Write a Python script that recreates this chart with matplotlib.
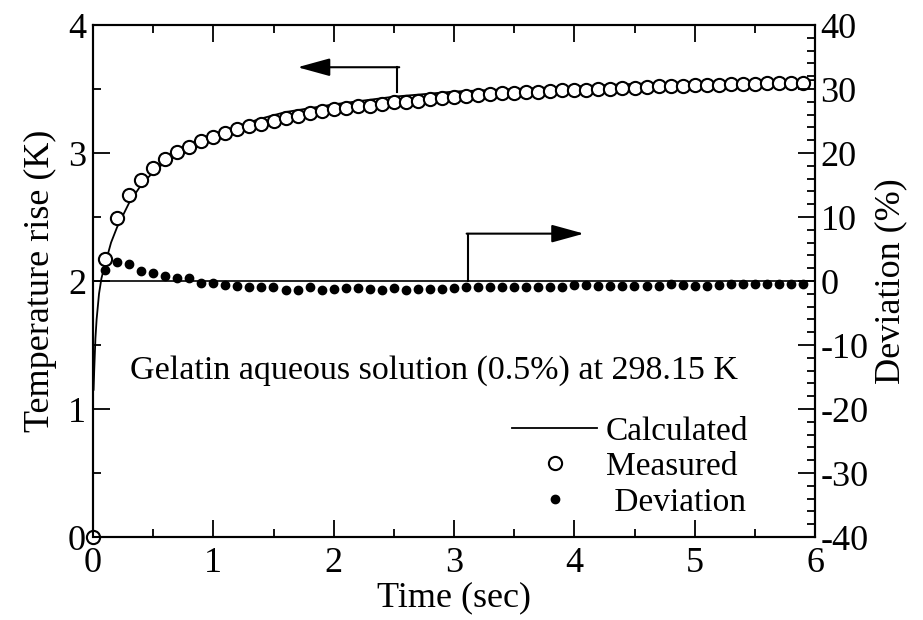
import matplotlib
matplotlib.use("Agg")
import matplotlib.pyplot as plt
from matplotlib.ticker import MultipleLocator

plt.rcParams['font.family'] = ['Liberation Serif', 'DejaVu Serif']
plt.rcParams['axes.unicode_minus'] = False

#%%-------------------- Data ---------------------------------------------------
# measured temperature rise (open circles)
time_meas = [0.0, 0.1, 0.2, 0.3, 0.4, 0.5, 0.6, 0.7, 0.8, 0.9,
             1.0, 1.1, 1.2, 1.3, 1.4, 1.5, 1.6, 1.7, 1.8, 1.9,
             2.0, 2.1, 2.2, 2.3, 2.4, 2.5, 2.6, 2.7, 2.8, 2.9,
             3.0, 3.1, 3.2, 3.3, 3.4, 3.5, 3.6, 3.7, 3.8, 3.9,
             4.0, 4.1, 4.2, 4.3, 4.4, 4.5, 4.6, 4.7, 4.8, 4.9,
             5.0, 5.1, 5.2, 5.3, 5.4, 5.5, 5.6, 5.7, 5.8, 5.9]
temp_meas = [0.0, 2.17, 2.49, 2.67, 2.79, 2.88, 2.95, 3.01, 3.05, 3.09,
             3.125, 3.16, 3.19, 3.21, 3.23, 3.25, 3.27, 3.29, 3.31, 3.33,
             3.34, 3.35, 3.365, 3.37, 3.38, 3.40, 3.40, 3.41, 3.42, 3.43,
             3.44, 3.445, 3.45, 3.46, 3.465, 3.47, 3.475, 3.48, 3.485, 3.49,
             3.49, 3.495, 3.50, 3.50, 3.505, 3.51, 3.515, 3.52, 3.52, 3.525,
             3.53, 3.53, 3.535, 3.54, 3.54, 3.54, 3.545, 3.545, 3.55, 3.55]

# deviation (%) (filled dots)
time_dev = time_meas[1:]
deviation = [1.7, 3.0, 2.6, 1.6, 1.3, 0.8, 0.5, 0.5, -0.3,
             -0.3, -0.6, -0.8, -0.9, -0.9, -1.0, -1.4, -1.4, -1.0, -1.4,
             -1.3, -1.1, -1.1, -1.3, -1.4, -1.1, -1.4, -1.3, -1.3, -1.3,
             -1.15, -0.95, -0.95, -0.95, -0.95, -0.95, -1.0, -1.0, -1.0, -0.95,
             -0.6, -0.6, -0.8, -0.8, -0.8, -0.8, -0.8, -0.8, -0.5, -0.6,
             -0.8, -0.8, -0.6, -0.4, -0.4, -0.5, -0.5, -0.4, -0.5, -0.5]

# calculated curve (solid line)
time_calc = [0.005, 0.01, 0.02, 0.03, 0.05, 0.07, 0.1, 0.15, 0.2, 0.3,
             0.4, 0.5, 0.6, 0.7, 0.8, 0.9, 1.0, 1.2, 1.4, 1.6,
             1.8, 2.0, 2.5, 3.0, 3.5, 4.0, 4.5, 5.0, 5.5, 6.0]
temp_calc = [1.15, 1.3, 1.55, 1.7, 1.9, 2.02, 2.13, 2.30, 2.42, 2.61,
             2.75, 2.85, 2.93, 2.99, 3.04, 3.09, 3.13, 3.21, 3.27, 3.32,
             3.35, 3.38, 3.44, 3.48, 3.50, 3.52, 3.54, 3.555, 3.56, 3.57]

#%%-------------------- Figure ------------------------------------------------
fig = plt.figure(figsize=(9.23, 6.2), dpi=100)
ax = fig.add_axes([93/923, 1-537/620, 722/923, 512/620])
ax2 = ax.twinx()

ax.plot(time_calc, temp_calc, color='k', lw=1.3, label='Calculated', zorder=2)
ax.plot(time_meas, temp_meas, 'o', ms=9.5, mfc='white', mec='k', mew=1.5,
        label='Measured', clip_on=False, zorder=3)
ax.axhline(2.0, color='k', lw=1.2, zorder=1)
ax2.plot(time_dev, deviation, 'o', ms=6, color='k', label=' Deviation', zorder=3)

ax.set_xlim(0, 6)
ax.set_ylim(0, 4)
ax2.set_ylim(-40, 40)

ax.xaxis.set_major_locator(MultipleLocator(1))
ax.xaxis.set_minor_locator(MultipleLocator(0.5))
ax.yaxis.set_major_locator(MultipleLocator(1))
ax.yaxis.set_minor_locator(MultipleLocator(0.5))
ax2.yaxis.set_major_locator(MultipleLocator(10))
ax2.yaxis.set_minor_locator(MultipleLocator(2))

ax.tick_params(which='both', direction='in', top=True, right=False, width=1.3)
ax.tick_params(which='major', length=12, labelsize=26, pad=5)
ax.tick_params(axis='x', which='major', pad=7)
ax.tick_params(which='minor', length=6)
ax2.tick_params(which='both', direction='in', width=1.3)
ax2.tick_params(which='major', length=12, labelsize=26, pad=4)
ax2.tick_params(which='minor', length=6)
for a in (ax, ax2):
    for s in a.spines.values():
        s.set_linewidth(1.5)

ax.set_xlabel('Time (sec)', fontsize=26, labelpad=1)
ax.set_ylabel('Temperature rise (K)', fontsize=26, labelpad=8)
ax2.set_ylabel('Deviation (%)', fontsize=26, labelpad=4)

# arrows pointing to the axes
ax.plot([2.53, 2.53], [3.48, 3.67], color='k', lw=1.5)
ax.annotate('', xy=(1.70, 3.67), xytext=(2.545, 3.67),
            arrowprops=dict(arrowstyle='-|>,head_length=2.0,head_width=0.55',
                            mutation_scale=10, color='k', lw=1.5, shrinkA=0, shrinkB=0))
ax2.plot([3.12, 3.12], [0, 7.4], color='k', lw=1.5)
ax2.annotate('', xy=(4.08, 7.4), xytext=(3.105, 7.4),
             arrowprops=dict(arrowstyle='-|>,head_length=2.0,head_width=0.55',
                             mutation_scale=10, color='k', lw=1.5, shrinkA=0, shrinkB=0))

ax.text(0.31, 1.24, 'Gelatin aqueous solution (0.5%) at 298.15 K',
        fontsize=24.5, ha='left', va='baseline')

h1, l1 = ax.get_legend_handles_labels()
h2, l2 = ax2.get_legend_handles_labels()
leg = ax.legend(h1 + h2, l1 + l2, loc='center', bbox_to_anchor=(0.744, 0.137),
                frameon=False, fontsize=24, handlelength=2.55, handletextpad=0.25,
                labelspacing=0.15, borderpad=0)

fig.savefig('out.png', dpi=100)
